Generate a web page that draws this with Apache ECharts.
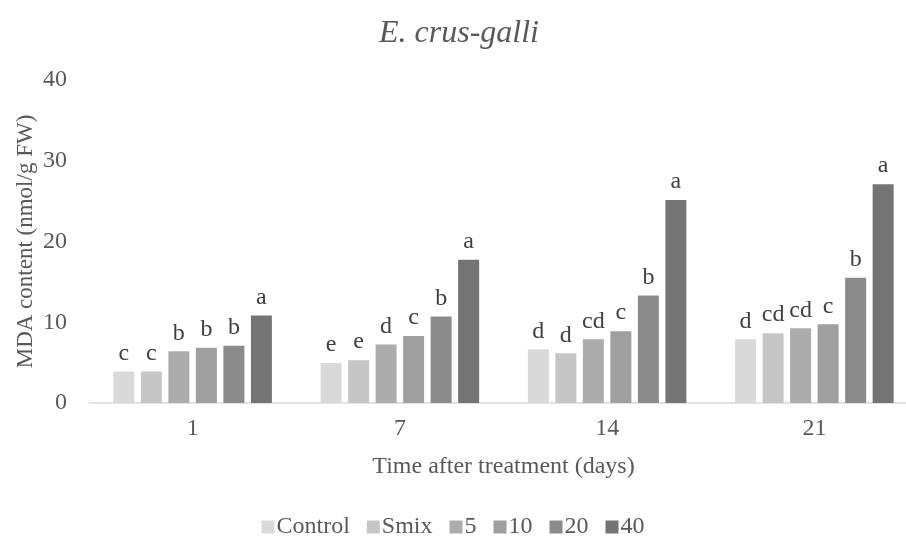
<!DOCTYPE html>
<html>
<head>
<meta charset="utf-8">
<script src="https://cdn.jsdelivr.net/npm/echarts@6/dist/echarts.min.js"></script>
<style>html,body{margin:0;padding:0;background:#fff}#c{width:906px;height:544px}</style>
</head>
<body>
<div id="c"></div>
<script>
var categories = ['1', '7', '14', '21'];
var seriesNames = ['Control', 'Smix', '5', '10', '20', '40'];
var controlVals = [3.9, 4.95, 6.65, 7.9];
var smixVals = [3.9, 5.3, 6.15, 8.65];
var s5Vals = [6.4, 7.25, 7.9, 9.25];
var s10Vals = [6.85, 8.3, 8.9, 9.75];
var s20Vals = [7.1, 10.7, 13.3, 15.5];
var s40Vals = [10.85, 17.75, 25.15, 27.1];
var controlLetters = ['c', 'e', 'd', 'd'];
var smixLetters = ['c', 'e', 'd', 'cd'];
var s5Letters = ['b', 'd', 'cd', 'cd'];
var s10Letters = ['b', 'c', 'c', 'c'];
var s20Letters = ['b', 'b', 'b', 'b'];
var s40Letters = ['a', 'a', 'a', 'a'];
var yTicks = [0, 10, 20, 30, 40];

var values = [controlVals, smixVals, s5Vals, s10Vals, s20Vals, s40Vals];
var letters = [controlLetters, smixLetters, s5Letters, s10Letters, s20Letters, s40Letters];
var colors = ['#d9d9d9', '#c6c6c6', '#acacac', '#9f9f9f', '#8b8b8b', '#747474'];
var font = '"Liberation Serif", "Times New Roman", serif';

var chart = echarts.init(document.getElementById('c'));
chart.setOption({
  animation: false,
  backgroundColor: '#ffffff',
  textStyle: { fontFamily: font },
  title: {
    text: 'E. crus-galli',
    left: 379,
    top: 18,
    padding: 0,
    textStyle: { fontFamily: font, fontStyle: 'italic', fontWeight: 'normal', fontSize: 32, color: '#595959' }
  },
  legend: {
    bottom: 0,
    left: 'center',
    itemWidth: 13,
    itemHeight: 13,
    itemGap: 17,
    icon: 'rect',
    textStyle: { fontFamily: font, fontSize: 24, color: '#595959', padding: [0, 0, 0, -3] },
    data: seriesNames
  },
  grid: { left: 89, width: 829, top: 80, bottom: 141, containLabel: false, outerBoundsMode: 'none' },
  xAxis: {
    type: 'category',
    data: categories,
    name: 'Time after treatment (days)',
    nameLocation: 'middle',
    nameGap: 52,
    nameTextStyle: { fontFamily: font, fontSize: 24, color: '#595959' },
    axisLine: { lineStyle: { color: '#d9d9d9', width: 1.5 } },
    axisTick: { show: false },
    axisLabel: { fontFamily: font, fontSize: 24, color: '#595959', margin: 14 }
  },
  yAxis: {
    type: 'value',
    min: yTicks[0],
    max: yTicks[yTicks.length - 1],
    interval: 10,
    name: 'MDA content (nmol/g FW)',
    nameLocation: 'middle',
    nameGap: 52,
    nameMoveOverlap: false,
    nameTextStyle: { fontFamily: font, fontSize: 23, color: '#595959' },
    axisLine: { show: false },
    axisTick: { show: false },
    splitLine: { show: false },
    axisLabel: { fontFamily: font, fontSize: 24, color: '#595959', margin: 22 }
  },
  series: seriesNames.map(function (name, i) {
    return {
      name: name,
      type: 'bar',
      data: values[i],
      barWidth: 21,
      barGap: '31%',
      itemStyle: { color: colors[i] },
      label: {
        show: true,
        position: 'top',
        distance: 6,
        fontFamily: font,
        fontSize: 24,
        color: '#404040',
        formatter: function (p) { return letters[i][p.dataIndex]; }
      }
    };
  })
});
</script>
</body>
</html>
